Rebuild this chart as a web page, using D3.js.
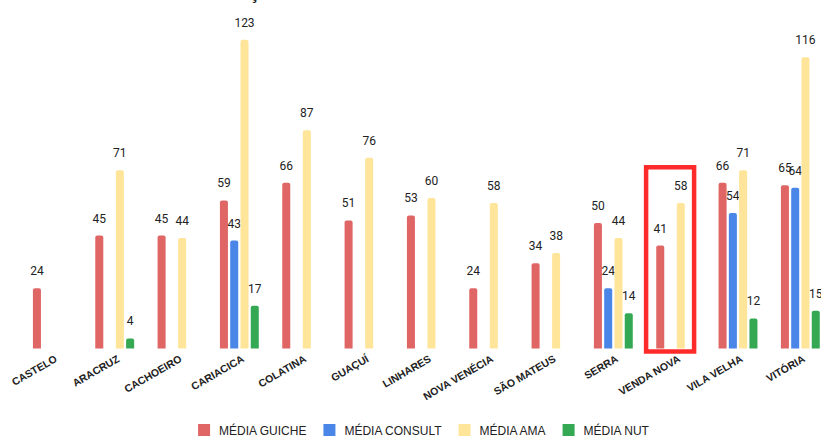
<!DOCTYPE html>
<html>
<head>
<meta charset="utf-8">
<script src="https://cdn.jsdelivr.net/npm/d3@7"></script>
<style>
  body { margin: 0; background: #fff; }
  svg { display: block; }
</style>
</head>
<body>
<div id="chart"></div>
<script>
// unidades e médias por serviço (null = sem atendimento)
var unidades = ["CASTELO", "ARACRUZ", "CACHOEIRO", "CARIACICA", "COLATINA", "GUAÇUÍ", "LINHARES",
                "NOVA VENÉCIA", "SÃO MATEUS", "SERRA", "VENDA NOVA", "VILA VELHA", "VITÓRIA"];
var series = ["MÉDIA GUICHE", "MÉDIA CONSULT", "MÉDIA AMA", "MÉDIA NUT"];
var mediaGuiche  = [24, 45, 45, 59, 66, 51, 53, 24, 34, 50, 41, 66, 65];
var mediaConsult = [null, null, null, 43, null, null, null, null, null, 24, null, 54, 64];
var mediaAma     = [null, 71, 44, 123, 87, 76, 60, 58, 38, 44, 58, 71, 116];
var mediaNut     = [null, 4, null, 17, null, null, null, null, null, 14, null, 12, 15];
var colors = ["#e06666", "#4a86e8", "#ffe599", "#34a853"];
var destaque = "VENDA NOVA";

var width = 821, height = 436;
var svg = d3.select("#chart").append("svg")
  .attr("width", width)
  .attr("height", height);

// titulo (cortado no topo como no original)
svg.append("text")
  .attr("x", 332)
  .attr("y", -1)
  .attr("text-anchor", "middle")
  .style("font-family", "Liberation Sans, Arial, sans-serif")
  .style("font-size", "18px")
  .style("font-weight", "bold")
  .style("fill", "#222")
  .text("PRODUÇÃO MÉDIA POR UNIDADE");

var valores = [mediaGuiche, mediaConsult, mediaAma, mediaNut];
var data = unidades.map(function (u, i) {
  return { unidade: u, vals: series.map(function (s, j) { return { serie: s, idx: j, v: valores[j][i] }; }) };
});

var baseY = 348.5;
var x0 = d3.scaleBand().domain(unidades).range([21.2, 831.5]).paddingInner(0.34).paddingOuter(0.17);
var x1 = d3.scaleBand().domain(series).range([0, x0.bandwidth()]).paddingInner(0.22).paddingOuter(0.11);
var y = d3.scaleLinear().domain([0, 123]).range([baseY, baseY - 123 * 2.51]);

function barPath(x, top, w, r) {
  var b = baseY;
  return "M" + x + "," + b +
    "V" + (top + r) +
    "Q" + x + "," + top + " " + (x + r) + "," + top +
    "H" + (x + w - r) +
    "Q" + (x + w) + "," + top + " " + (x + w) + "," + (top + r) +
    "V" + b + "Z";
}

var groups = svg.selectAll("g.grupo")
  .data(data)
  .enter()
  .append("g")
  .attr("class", "grupo")
  .attr("transform", function (d) { return "translate(" + x0(d.unidade) + ",0)"; });

var bars = groups.selectAll("g.barra")
  .data(function (d) { return d.vals.filter(function (e) { return e.v != null; }); })
  .enter()
  .append("g");

bars.append("path")
  .attr("d", function (d) { return barPath(x1(d.serie), y(d.v), x1.bandwidth(), 2); })
  .style("fill", function (d) { return colors[d.idx]; });

bars.append("text")
  .attr("x", function (d) { return x1(d.serie) + x1.bandwidth() / 2; })
  .attr("y", function (d) { return y(d.v) - 13; })
  .attr("text-anchor", "middle")
  .style("font-family", "Roboto, Arial, sans-serif")
  .style("font-size", "12px")
  .style("fill", "#222")
  .text(function (d) { return d.v; });

// rótulos inclinados do eixo x
svg.selectAll("text.xlabel")
  .data(unidades)
  .enter()
  .append("text")
  .attr("class", "xlabel")
  .attr("text-anchor", "end")
  .attr("transform", function (d) {
    return "translate(" + (x0(d) + x0.bandwidth() / 2 + 5.5) + ",361) rotate(-30)";
  })
  .style("font-family", "Liberation Sans, Arial, sans-serif")
  .style("font-size", "10.5px")
  .style("font-weight", "bold")
  .style("fill", "#222")
  .text(function (d) { return d; });

// destaque em vermelho
svg.append("rect")
  .attr("x", x0(destaque) - 9)
  .attr("y", y(73) + 2)
  .attr("width", 48)
  .attr("height", baseY + 1 - y(73))
  .style("fill", "none")
  .style("stroke", "#ff2b2b")
  .style("stroke-width", 4.5);

// legenda
var legend = svg.append("g");
var lx = 0;
series.forEach(function (s, i) {
  var item = legend.append("g").attr("transform", "translate(" + lx + ",0)");
  item.append("rect")
    .attr("x", 0).attr("y", 424)
    .attr("width", 12).attr("height", 12)
    .style("fill", colors[i]);
  var t = item.append("text")
    .attr("x", 21).attr("y", 434.5)
    .style("font-family", "Liberation Sans, Arial, sans-serif")
    .style("font-size", "12px")
    .style("fill", "#222")
    .text(s);
  lx += 21 + t.node().getComputedTextLength() + 17;
});
var lw = lx - 17;
legend.attr("transform", "translate(" + (423.5 - lw / 2) + ",0)");
</script>
</body>
</html>
